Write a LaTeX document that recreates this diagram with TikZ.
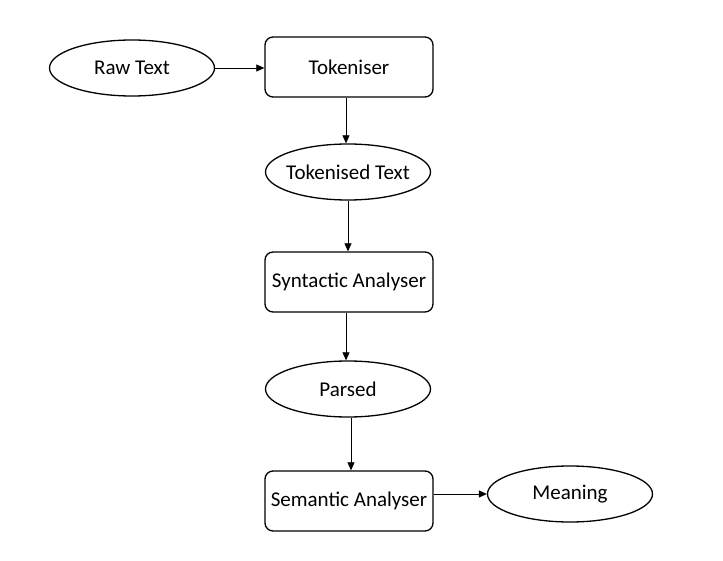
\documentclass[tikz,border=0pt]{standalone}
\usepackage{fontspec}
\setmainfont{Carlito}
\usetikzlibrary{shapes.geometric,arrows.meta}

\begin{document}
\begin{tikzpicture}[x=1pt,y=-1pt,font=\fontsize{21}{24}\selectfont,
    stage/.style={draw,line width=1.3pt,rounded corners=8pt,minimum width=168pt,minimum height=60pt,inner sep=0pt},
    data/.style={draw,ellipse,line width=1.3pt,minimum width=165pt,minimum height=56pt,inner xsep=-20pt,inner ysep=0pt},
    flow/.style={line width=0.7pt,-{Triangle[length=8pt,width=7pt]}}]
        \useasboundingbox (0,0) rectangle (723,561);
        \draw (132,68)  node[data]  (raw) {Raw Text};
        \draw (349,67)  node[stage] (tok) {Tokeniser};
        \draw (348,172) node[data]  (toktext) {Tokenised Text};
        \draw (349,282) node[stage] (syn) {Syntactic Analyser};
        \draw (348,389) node[data]  (parsed) {Parsed};
        \draw (349,501) node[stage] (sem) {Semantic Analyser};
        \draw (570,494) node[data]  (mean) {Meaning};
        \draw[flow] (raw.east) -- (tok.west |- raw.east);
        \draw[flow] (tok.south -| 346,0) -- (toktext.north -| 346,0);
        \draw[flow] (toktext.south) -- (syn.north -| toktext.south);
        \draw[flow] (syn.south -| 346,0) -- (parsed.north -| 346,0);
        \draw[flow] (parsed.south -| 351,0) -- (sem.north -| 351,0);
        \draw[flow] (sem.east |- mean.west) -- (mean.west);
\end{tikzpicture}
\end{document}
